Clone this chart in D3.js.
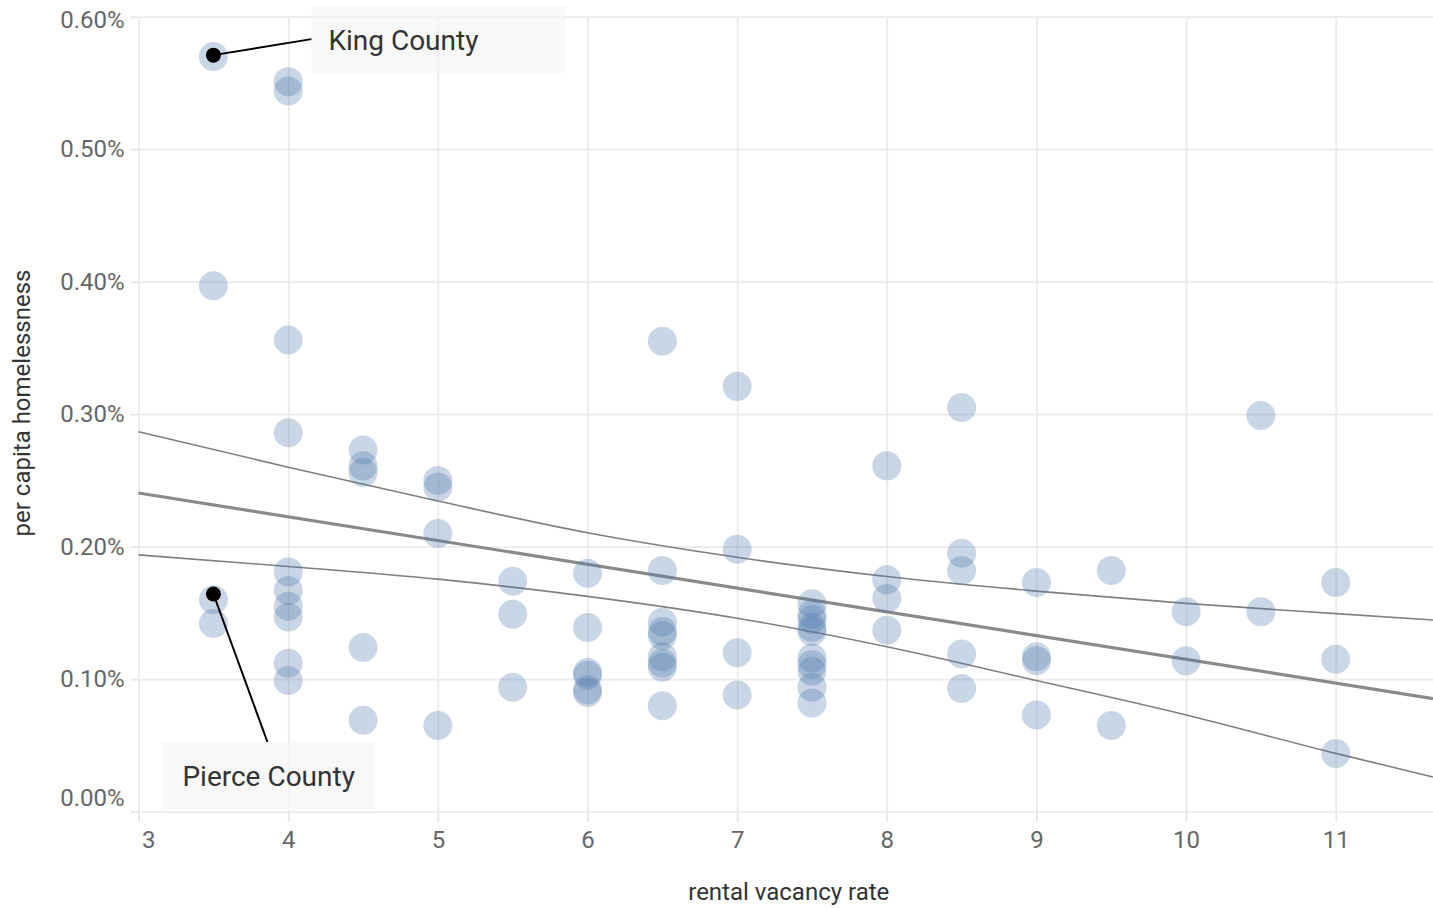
<!DOCTYPE html>
<meta charset="utf-8" />
<style>
  body {
    margin: 0;
    background: #fff;
  }

  text {
    font-family: Roboto, sans-serif;
  }

  .grid line {
    stroke: #ebebeb;
    stroke-width: 1.8px;
  }

  .axis line {
    stroke: #e6e6e6;
    stroke-width: 1.8px;
  }

  .axis text {
    fill: #666;
    font-size: 24px;
  }

  .axis-title {
    fill: #333;
    font-size: 24px;
  }
</style>

<body>
  <svg id="chart" width="1433" height="909"></svg>
</body>
<script src="https://d3js.org/d3.v7.min.js"></script>
<script>
  // one entry per county: rental vacancy rate and per capita homelessness
  const vacancy = [
    3.5, 3.5, 3.5, 3.5,
    4, 4, 4, 4, 4, 4, 4, 4, 4, 4,
    4.5, 4.5, 4.5, 4.5, 4.5,
    5, 5, 5, 5,
    5.5, 5.5, 5.5,
    6, 6, 6, 6, 6, 6,
    6.5, 6.5, 6.5, 6.5, 6.5, 6.5, 6.5, 6.5, 6.5,
    7, 7, 7, 7,
    7.5, 7.5, 7.5, 7.5, 7.5, 7.5, 7.5, 7.5, 7.5, 7.5,
    8, 8, 8, 8,
    8.5, 8.5, 8.5, 8.5, 8.5,
    9, 9, 9, 9,
    9.5, 9.5,
    10, 10,
    10.5, 10.5,
    11, 11, 11,
  ];
  const homeless = [
    0.0057, 0.00397, 0.0016, 0.00142,
    0.00551, 0.00544, 0.00356, 0.00286, 0.00181, 0.00167, 0.00155, 0.00147, 0.00112, 0.00099,
    0.00273, 0.00261, 0.00256, 0.00124, 0.00069,
    0.0025, 0.00245, 0.0021, 0.00065,
    0.00174, 0.00149, 0.00094,
    0.0018, 0.00139, 0.00105, 0.00103, 0.00092, 0.0009,
    0.00355, 0.00182, 0.00143, 0.00136, 0.00133, 0.00117, 0.00112, 0.00109, 0.0008,
    0.00321, 0.00198, 0.0012, 0.00088,
    0.00157, 0.00149, 0.00145, 0.00139, 0.00136, 0.00116, 0.00111, 0.00106, 0.00094, 0.00082,
    0.00261, 0.00175, 0.00161, 0.00137,
    0.00305, 0.00195, 0.00182, 0.00119, 0.00093,
    0.00173, 0.00117, 0.00114, 0.00073,
    0.00182, 0.00065,
    0.00151, 0.00114,
    0.00299, 0.00151,
    0.00173, 0.00115, 0.00044,
  ];

  const fitX = [3, 11.65];
  const fitY = [0.002405, 0.000854];
  const bandX = [3, 4, 5, 6, 7, 8, 9, 10, 11, 11.65];
  const bandUpper = [0.002868, 0.0026, 0.002345, 0.002105, 0.00192, 0.001775, 0.001665, 0.001572, 0.001495, 0.001447];
  const bandLower = [0.001938, 0.001851, 0.001755, 0.001625, 0.00146, 0.001245, 0.00099, 0.00073, 0.00044, 0.000262];

  const xTicks = [3, 4, 5, 6, 7, 8, 9, 10, 11];
  const yTicks = [0, 0.001, 0.002, 0.003, 0.004, 0.005, 0.006];

  // labelled counties (offsets are label placement in pixels)
  const callouts = [
    { name: "King County", x: 3.5, y: 0.00571, lx: 98, ly: -16, bx: 0, by: -33, bw: 254, bh: 67, tx: 17 },
    { name: "Pierce County", x: 3.5, y: 0.001643, lx: 54, ly: 148, bx: -105, by: 0, bw: 212, bh: 68, tx: 20 },
  ];

  const svg = d3.select("#chart");
  const margin = { top: 16.7, right: 0, bottom: 97.3, left: 138.6 };
  const width = svg.attr("width") - margin.left - margin.right;
  const height = svg.attr("height") - margin.top - margin.bottom;

  const g = svg
    .append("g")
    .attr("transform", "translate(" + margin.left + "," + margin.top + ")");

  const x = d3.scaleLinear().domain([3, 11.65]).range([0, width]);
  const y = d3.scaleLinear().domain([0, 0.006]).range([height, 0]);

  // grid lines
  g.append("g")
    .attr("class", "grid")
    .call(d3.axisBottom(x).tickValues(xTicks).tickSize(height).tickFormat(""))
    .call((s) => s.select(".domain").remove());

  g.append("g")
    .attr("class", "grid")
    .call(d3.axisLeft(y).tickValues(yTicks).tickSize(-width).tickFormat(""))
    .call((s) => s.select(".domain").remove());

  // x axis, first label flush to the left
  g.append("g")
    .attr("class", "axis")
    .attr("transform", "translate(0," + height + ")")
    .call(d3.axisBottom(x).tickValues(xTicks).tickSize(10).tickPadding(9).tickFormat(d3.format("d")))
    .call((s) => s.select(".domain").remove())
    .selectAll("text")
    .attr("dx", (d) => (d === 3 ? 3 : 0))
    .attr("text-anchor", (d) => (d === 3 ? "start" : "middle"));

  // y axis, first and last labels kept inside the panel
  g.append("g")
    .attr("class", "axis")
    .call(d3.axisLeft(y).tickValues(yTicks).tickSize(8).tickPadding(6).tickFormat(d3.format(".2%")))
    .call((s) => s.select(".domain").remove())
    .selectAll("text")
    .attr("dy", (d) => (d === 0 ? "-0.25em" : d === 0.006 ? "0.45em" : "0.32em"));

  // axis titles
  svg
    .append("text")
    .attr("class", "axis-title")
    .attr("x", margin.left + width / 2 + 3)
    .attr("y", 900)
    .attr("text-anchor", "middle")
    .text("rental vacancy rate");

  svg
    .append("text")
    .attr("class", "axis-title")
    .attr("transform", "translate(30," + 403 + ") rotate(-90)")
    .attr("text-anchor", "middle")
    .text("per capita homelessness");

  // regression line and confidence band
  const fitLine = d3
    .line()
    .x((d) => x(d[0]))
    .y((d) => y(d[1]));

  const bandLine = d3
    .line()
    .curve(d3.curveMonotoneX)
    .x((d) => x(d[0]))
    .y((d) => y(d[1]));

  g.append("path")
    .attr("d", bandLine(bandX.map((v, i) => [v, bandUpper[i]])))
    .attr("fill", "none")
    .attr("stroke", "#808080")
    .attr("stroke-width", 1.6);

  g.append("path")
    .attr("d", bandLine(bandX.map((v, i) => [v, bandLower[i]])))
    .attr("fill", "none")
    .attr("stroke", "#808080")
    .attr("stroke-width", 1.6);

  g.append("path")
    .attr("d", fitLine(fitX.map((v, i) => [v, fitY[i]])))
    .attr("fill", "none")
    .attr("stroke", "#8a8a8a")
    .attr("stroke-width", 3.2);

  // counties
  g.selectAll(".dot")
    .data(vacancy.map((v, i) => ({ x: v, y: homeless[i] })))
    .enter()
    .append("circle")
    .attr("class", "dot")
    .attr("cx", (d) => x(d.x))
    .attr("cy", (d) => y(d.y))
    .attr("r", 14.5)
    .attr("fill", "#4c78a8")
    .attr("fill-opacity", 0.3);

  // callouts
  const callout = g.selectAll(".callout").data(callouts).enter().append("g").attr("class", "callout");

  callout
    .append("rect")
    .attr("x", (d) => x(d.x) + d.lx + d.bx)
    .attr("y", (d) => y(d.y) + d.ly + d.by)
    .attr("width", (d) => d.bw)
    .attr("height", (d) => d.bh)
    .attr("fill", "#f5f5f5")
    .attr("fill-opacity", 0.7);

  callout
    .append("line")
    .attr("x1", (d) => x(d.x))
    .attr("y1", (d) => y(d.y))
    .attr("x2", (d) => x(d.x) + d.lx)
    .attr("y2", (d) => y(d.y) + d.ly)
    .attr("stroke", "#000")
    .attr("stroke-width", 2);

  callout
    .append("circle")
    .attr("cx", (d) => x(d.x))
    .attr("cy", (d) => y(d.y))
    .attr("r", 7.5)
    .attr("fill", "#000");

  callout
    .append("text")
    .attr("x", (d) => x(d.x) + d.lx + d.bx + d.tx)
    .attr("y", (d) => y(d.y) + d.ly + d.by + d.bh / 2 + 10)
    .attr("fill", "#333")
    .style("font-size", "28px")
    .text((d) => d.name);
</script>
